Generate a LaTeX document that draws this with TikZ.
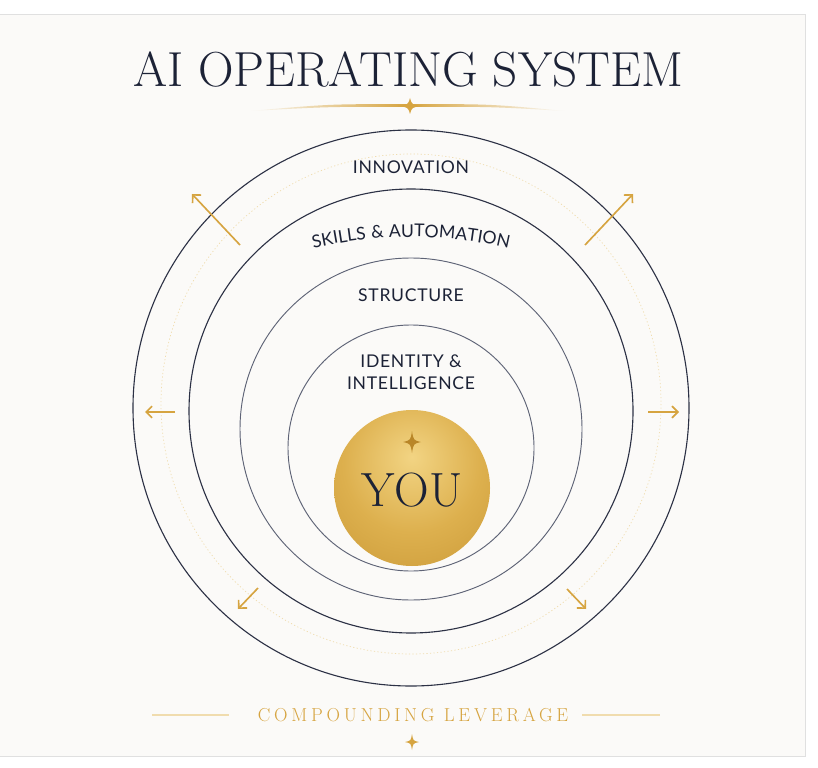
\documentclass[tikz,border=0pt]{standalone}
\usepackage{fontspec}
\newfontfamily\labelfont[LetterSpace=4]{Lato}
\newfontfamily\mottofont[LetterSpace=20]{Latin Modern Roman}
\usetikzlibrary{arrows.meta,decorations.text}
\definecolor{navy}{HTML}{1C2236}
\definecolor{ringdark}{HTML}{2C3145}
\definecolor{ringgray}{HTML}{5E6376}
\definecolor{gold}{HTML}{D6A440}
\definecolor{goldpale}{HTML}{F0DCAE}
\definecolor{goldhi}{HTML}{F2D483}
\definecolor{goldmid}{HTML}{DDB04E}
\definecolor{golddk}{HTML}{C18E2C}
\definecolor{starink}{HTML}{B98628}
\definecolor{paper}{HTML}{FBFAF8}
\pgfdeclareradialshading{goldsheen}{\pgfpoint{0bp}{10bp}}{%
  color(0bp)=(goldhi); color(22bp)=(goldmid); color(52bp)=(golddk); color(100bp)=(golddk)}
\tikzset{
  ringouter/.style = {draw=ringdark, line width=0.95pt},
  ring/.style      = {draw=ringgray, line width=0.8pt},
  dotring/.style   = {draw=goldpale, line width=0.6pt, dash pattern=on 1pt off 2pt},
  layer/.style     = {font=\labelfont\fontsize{15}{19}\selectfont, text=navy, align=center},
  growth/.style    = {draw=gold, line width=1.4pt, -{Straight Barb[length=5pt,width=10pt]}},
  rule/.style      = {draw=goldpale, line width=1.1pt},
  sparkle/.pic     = {
    \fill (0,-1) .. controls (0.16,-0.16) .. (1,0) .. controls (0.16,0.16) .. (0,1)
          .. controls (-0.16,0.16) .. (-1,0) .. controls (-0.16,-0.16) .. (0,-1) -- cycle;
  }
}

\begin{document}
\begin{tikzpicture}[x=0.03cm, y=-0.03cm]
  \useasboundingbox (0,0) rectangle (818,768);
  % paper
  \fill[white] (0,0) rectangle (818,768);
  \filldraw[fill=paper, draw=black!12] (-2,14) rectangle (805,756);

  % title
  \node[text=navy, font=\fontsize{42}{42}\selectfont] (title) at (408,70) {AI OPERATING SYSTEM};
  \shade[left color=paper, right color=paper, middle color=gold]
    (250,111) .. controls (330,104) .. (410,104.2) .. controls (490,104) .. (565,111)
    .. controls (490,106.6) .. (410,107) .. controls (330,106.6) .. (250,111) -- cycle;
  \pic[color=gold, xscale=12, yscale=8] at (410,106) {sparkle};

  % rings
  \draw[ringouter] (411,408) circle[radius=278];
  \draw[dotring]   (411,404) circle[radius=250];
  \draw[ringouter] (411,411) circle[radius=222];
  \draw[ring]      (411,429) circle[radius=171];
  \draw[ring]      (411,448) circle[radius=123];

  % layer labels
  \node[layer] (innovation) at (411,167) {INNOVATION};
  \coordinate (skillsmid) at (411,667);
  \path[decorate, decoration={text along path, text align=center, text color=navy,
      text={|\labelfont\fontsize{15}{18}\selectfont|SKILLS {\&} AUTOMATION}}]
    (skillsmid) ++(248:430) arc[start angle=248, end angle=292, radius=430];
  \node[layer] (structure) at (411,295) {STRUCTURE};
  \node[layer] (identity) at (411,372) {IDENTITY \&\\INTELLIGENCE};

  % core
  \shade[shading=goldsheen] (412,488) circle[radius=78];
  \node[text=navy, font=\fontsize{41}{41}\selectfont] (you) at (412,490) {YOU};
  \pic[color=starink, xscale=9, yscale=11] at (412,442) {sparkle};

  % growth arrows
  \coordinate (nw-a) at (240,245); \coordinate (nw-b) at (192,194);
  \coordinate (ne-a) at (585,245); \coordinate (ne-b) at (633,194);
  \coordinate (w-a)  at (175,412); \coordinate (w-b)  at (145,412);
  \coordinate (e-a)  at (648,412); \coordinate (e-b)  at (679,412);
  \coordinate (sw-a) at (258,588); \coordinate (sw-b) at (238,609);
  \coordinate (se-a) at (567,589); \coordinate (se-b) at (586,609);
  \foreach \dir in {nw,ne,w,e,sw,se}
    \draw[growth] (\dir-a) -- (\dir-b);

  % footer
  \node[text=gold, font=\mottofont\fontsize{16}{16}\selectfont]
    (motto) at (413,715) {COMPOUNDING LEVERAGE};
  \coordinate (rule-l) at (152,715); \coordinate (rule-r) at (660,715);
  \draw[rule] (rule-l) -- (229,715);
  \draw[rule] (582,715) -- (rule-r);
  \pic[color=gold, xscale=7, yscale=8] at (412,742) {sparkle};
\end{tikzpicture}
\end{document}
